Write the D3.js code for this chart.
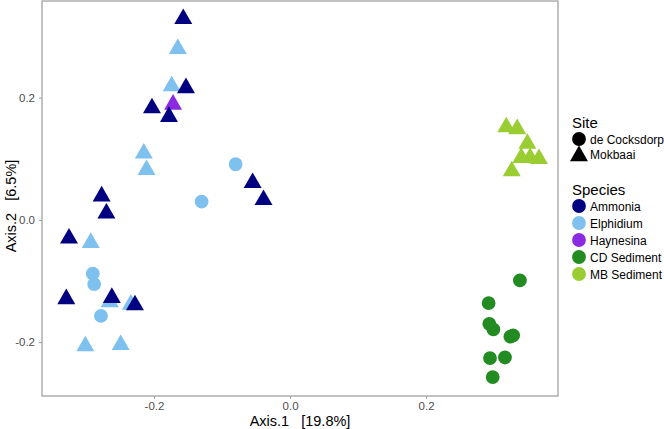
<!DOCTYPE html>
<html><head><meta charset="utf-8">
<script src="https://cdn.jsdelivr.net/npm/d3@7"></script>
<style>body{margin:0;background:#fff;font-family:"Liberation Sans",Arial,sans-serif;}</style>
</head><body><svg id="c" width="664" height="429"></svg>
<script>
const species = ["Ammonia","Elphidium","Haynesina","CD Sediment","MB Sediment"];
const speciesColors = ["#000080","#7EC0EE","#8A2BE2","#228B22","#9ACD32"];
const sites = ["de Cocksdorp","Mokbaai"];
const xTicks = [-0.2, 0.0, 0.2];
const yTicks = [-0.2, 0.0, 0.2];
const tickLabels = ["-0.2","0.0","0.2"];

// [Axis.1, Axis.2]
const ammonia = [
  [-0.157,0.332],[-0.153,0.219],[-0.203,0.186],[-0.178,0.172],[-0.055,0.064],[-0.039,0.036],
  [-0.277,0.042],[-0.270,0.014],[-0.325,-0.027],[-0.329,-0.126],[-0.262,-0.124],[-0.228,-0.136]
];
const elphidiumMB = [
  [-0.165,0.283],[-0.174,0.222],[-0.215,0.112],[-0.211,0.085],[-0.293,-0.034],
  [-0.265,-0.131],[-0.234,-0.135],[-0.301,-0.203],[-0.249,-0.201]
];
const elphidiumCD = [[-0.080,0.091],[-0.130,0.030],[-0.290,-0.088],[-0.288,-0.105],[-0.278,-0.157]];
const haynesina = [[-0.172,0.192]];
const cdSediment = [
  [0.338,-0.099],[0.292,-0.136],[0.293,-0.170],[0.299,-0.179],[0.324,-0.191],[0.328,-0.189],
  [0.294,-0.226],[0.316,-0.225],[0.298,-0.257]
];
const mbSediment = [
  [0.318,0.155],[0.334,0.152],[0.349,0.128],[0.340,0.105],[0.353,0.105],[0.366,0.103],[0.326,0.083]
];

const points = [];
elphidiumCD.forEach(d=>points.push({x:d[0],y:d[1],sp:"Elphidium",site:"de Cocksdorp"}));
cdSediment.forEach(d=>points.push({x:d[0],y:d[1],sp:"CD Sediment",site:"de Cocksdorp"}));
elphidiumMB.forEach(d=>points.push({x:d[0],y:d[1],sp:"Elphidium",site:"Mokbaai"}));
haynesina.forEach(d=>points.push({x:d[0],y:d[1],sp:"Haynesina",site:"Mokbaai"}));
ammonia.forEach(d=>points.push({x:d[0],y:d[1],sp:"Ammonia",site:"Mokbaai"}));
mbSediment.forEach(d=>points.push({x:d[0],y:d[1],sp:"MB Sediment",site:"Mokbaai"}));

const svg = d3.select("#c");
const P = {l:42, t:1, r:558, b:396};
const x = d3.scaleLinear().domain([-0.3647,0.394]).range([P.l,P.r]);
const y = d3.scaleLinear().domain([-0.288,0.358]).range([P.b,P.t]);
const color = d3.scaleOrdinal().domain(species).range(speciesColors);
const shape = d3.scaleOrdinal().domain(sites).range([d3.symbolCircle,d3.symbolTriangle]);
const symSize = d3.scaleOrdinal().domain(sites).range([150,140]);
const sym = d3.symbol();

svg.append("rect").attr("x",P.l).attr("y",P.t).attr("width",P.r-P.l).attr("height",P.b-P.t)
  .attr("fill","#fff").attr("stroke","#9a9a9a").attr("stroke-width",1.2);

const fmt = (v,i) => tickLabels[i];
const gx = svg.append("g").attr("transform",`translate(0,${P.b})`)
  .call(d3.axisBottom(x).tickValues(xTicks).tickFormat(fmt).tickSize(3).tickPadding(3));
const gy = svg.append("g").attr("transform",`translate(${P.l},0)`)
  .call(d3.axisLeft(y).tickValues(yTicks).tickFormat(fmt).tickSize(3).tickPadding(4));
[gx,gy].forEach(g=>{
  g.select(".domain").remove();
  g.selectAll(".tick line").attr("stroke","#9a9a9a");
  g.selectAll(".tick text").attr("fill","#4d4d4d").style("font-size","11.5px").style("font-family","Liberation Sans, Arial, sans-serif");
});

svg.append("g").selectAll("path").data(points).join("path")
  .attr("transform",d=>`translate(${x(d.x)},${y(d.y) + (d.site==="Mokbaai"?2:0)})`)
  .attr("d",d=>sym.type(shape(d.site)).size(symSize(d.site))())
  .attr("fill",d=>color(d.sp));

svg.append("text").attr("x",300).attr("y",426).attr("text-anchor","middle")
  .style("font-size","14.5px").attr("fill","#000").attr("xml:space","preserve").text("Axis.1   [19.8%]");
svg.append("text").attr("transform","translate(16,206) rotate(-90)").attr("text-anchor","middle")
  .style("font-size","14.5px").attr("fill","#000").attr("xml:space","preserve").text("Axis.2   [6.5%]");

// Legend
const L = svg.append("g");
L.append("text").attr("x",572).attr("y",128).style("font-size","15px").text("Site");
sites.forEach((s,i)=>{
  const cy = 139 + i*15.5;
  L.append("path").attr("transform",`translate(579,${cy + (i===1?1.5:0)})`)
    .attr("d",sym.type(shape(s)).size(symSize(s))()).attr("fill","#000");
  L.append("text").attr("x",590).attr("y",cy+4.5).style("font-size","12px").text(s);
});
L.append("text").attr("x",572).attr("y",195).style("font-size","15px").text("Species");
species.forEach((s,i)=>{
  const cy = 206 + i*17;
  L.append("path").attr("transform",`translate(579,${cy})`)
    .attr("d",sym.type(d3.symbolCircle).size(150)()).attr("fill",color(s));
  L.append("text").attr("x",590).attr("y",cy+4.5).style("font-size","12px").text(s);
});
</script></body></html>
